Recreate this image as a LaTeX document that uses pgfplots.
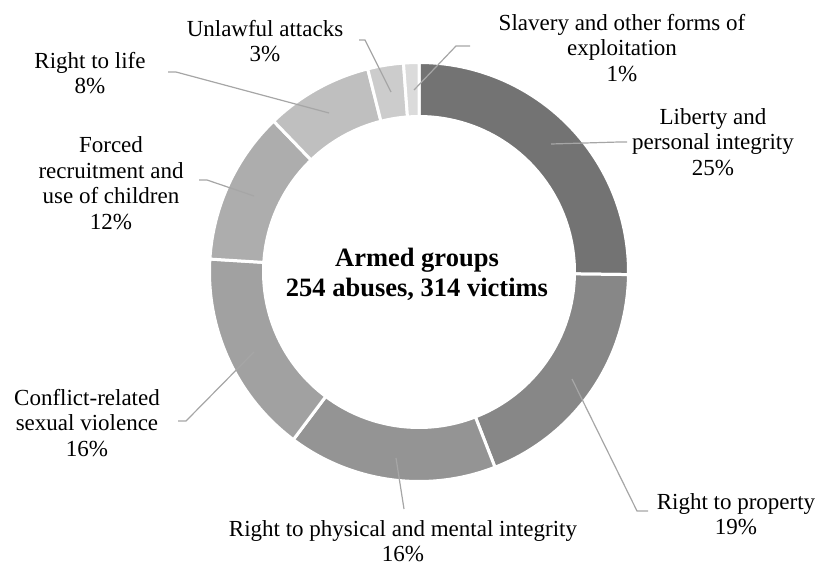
\documentclass[border=0pt]{standalone}
\usepackage{fontspec}
\setmainfont{Liberation Serif}
\usepackage{pgfplots}
\usepackage{pgfplotstable}
\pgfplotsset{compat=1.18}
\definecolor{leader}{gray}{0.65}
\tikzset{
  lbl/.style={font=\fontsize{23bp}{25.5bp}\selectfont, align=center, inner sep=0pt},
  ldr/.style={leader, line width=1.2bp},
}
% v = number of abuses (of 254), blk = percent black in the grey fill
\pgfplotstableread{
name v blk
liberty 64 55
property 48 47
physical 41 42
crsv 40 37
forced 30 32
life 21 25
unlawful 7 20
slavery 3 14
}\abuses
\begin{document}
\begin{tikzpicture}
\begin{axis}[
  name=ax,
  width=821bp, height=565bp, scale only axis,
  xmin=0, xmax=821, ymin=0, ymax=565, y dir=reverse,
  hide axis, clip=false,
]
\pgfplotsextra{%
  \gdef\cum{0}%
  \foreach \i in {0,...,7}{%
    \pgfplotstablegetelem{\i}{v}\of\abuses \let\val\pgfplotsretval
    \pgfplotstablegetelem{\i}{blk}\of\abuses \let\gr\pgfplotsretval
    \pgfmathsetmacro\sa{90-(360/254)*\cum}%
    \pgfmathsetmacro\newcum{\cum+\val}%
    \pgfmathsetmacro\ea{90-(360/254)*\newcum}%
    \xdef\cum{\newcum}%
    \fill[fill=black!\gr, draw=white, line width=3bp, line join=miter]
      (axis cs:419,272) ++(\sa:209.5bp) arc[start angle=\sa, end angle=\ea, radius=209.5bp]
      -- ++(\ea:-54bp) arc[start angle=\ea, end angle=\sa, radius=155.5bp] -- cycle;
  }%
}
% leader lines
\draw[ldr] (axis cs:414,90) -- (axis cs:456,46) -- (axis cs:470,46);
\draw[ldr] (axis cs:391,92) -- (axis cs:365,40) -- (axis cs:359,40);
\draw[ldr] (axis cs:329,113) -- (axis cs:176,72) -- (axis cs:168,72);
\draw[ldr] (axis cs:254,196) -- (axis cs:207,180) -- (axis cs:199,180);
\draw[ldr] (axis cs:254,352) -- (axis cs:186,421) -- (axis cs:178,421);
\draw[ldr] (axis cs:396,458) -- (axis cs:404,509);
\draw[ldr] (axis cs:572,379) -- (axis cs:637,511) -- (axis cs:648,511);
\draw[ldr] (axis cs:551,144) -- (axis cs:619,142) -- (axis cs:627,142);
% labels
\node[lbl] at (axis cs:622,48) {Slavery and other forms of\\exploitation\\1\%};
\node[lbl] at (axis cs:265,41) {Unlawful attacks\\3\%};
\node[lbl] at (axis cs:90,73) {Right to life\\8\%};
\node[lbl] at (axis cs:111,183) {Forced\\recruitment and\\use of children\\12\%};
\node[lbl] at (axis cs:87,423) {Conflict-related\\sexual violence\\16\%};
\node[lbl] at (axis cs:403,541) {Right to physical and mental integrity\\16\%};
\node[lbl] at (axis cs:736,514) {Right to property\\19\%};
\node[lbl] at (axis cs:713,142) {Liberty and\\personal integrity\\25\%};
\node[lbl, font=\fontsize{26.5bp}{30bp}\selectfont\bfseries] at (axis cs:417,274) {Armed groups\\254 abuses, 314 victims};
\end{axis}
\pgfresetboundingbox
\useasboundingbox (ax.south west) rectangle (ax.north east);
\end{tikzpicture}
\end{document}
